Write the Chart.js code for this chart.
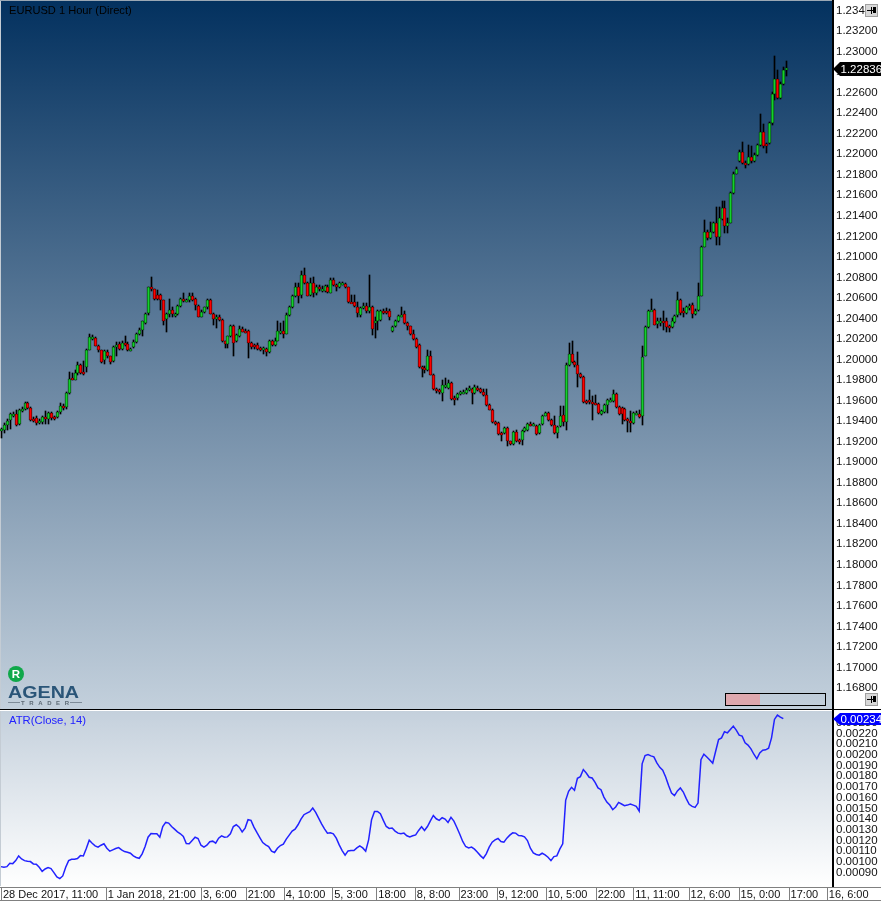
<!DOCTYPE html>
<html>
<head>
<meta charset="utf-8">
<title>EURUSD 1 Hour (Direct)</title>
<script src="https://cdn.jsdelivr.net/npm/chart.js@4/dist/chart.umd.min.js"></script>
<style>
  html, body { margin: 0; padding: 0; background: #fff; overflow: hidden; }
  canvas { position: absolute; left: 0; display: block; }
  #priceChart { top: 0; }
  #atrChart { top: 709px; }
</style>
</head>
<body>
<canvas id="priceChart" width="881" height="709"></canvas>
<canvas id="atrChart" width="881" height="192"></canvas>
<script>
// candles
const opens = [
1.19308,1.19318,1.19360,1.19408,1.19454,1.19470,1.19373,1.19506,1.19522,1.19577,
1.19528,1.19421,1.19431,1.19389,1.19392,1.19437,1.19421,1.19476,1.19441,1.19441,
1.19486,1.19551,1.19535,1.19674,1.19820,1.19804,1.19868,1.19946,1.19881,1.19923,
1.20095,1.20199,1.20205,1.20128,1.20089,1.19992,1.20069,1.20030,1.19982,1.20121,
1.20150,1.20102,1.20160,1.20147,1.20089,1.20121,1.20170,1.20247,1.20290,1.20354,
1.20452,1.20704,1.20685,1.20630,1.20630,1.20575,1.20393,1.20442,1.20487,1.20435,
1.20442,1.20526,1.20594,1.20571,1.20575,1.20617,1.20588,1.20526,1.20419,1.20461,
1.20507,1.20581,1.20448,1.20393,1.20419,1.20387,1.20176,1.20150,1.20231,1.20328,
1.20176,1.20231,1.20296,1.20280,1.20277,1.20160,1.20137,1.20144,1.20111,1.20095,
1.20102,1.20073,1.20176,1.20144,1.20183,1.20264,1.20280,1.20251,1.20432,1.20510,
1.20614,1.20704,1.20630,1.20821,1.20743,1.20630,1.20743,1.20646,1.20711,1.20678,
1.20672,1.20711,1.20652,1.20776,1.20724,1.20704,1.20730,1.20737,1.20704,1.20565,
1.20565,1.20516,1.20429,1.20500,1.20526,1.20468,1.20516,1.20354,1.20371,1.20387,
1.20468,1.20468,1.20468,1.20277,1.20322,1.20374,1.20419,1.20442,1.20354,1.20322,
1.20251,1.20199,1.20144,1.19927,1.19917,1.19901,1.20030,1.19852,1.19713,1.19700,
1.19674,1.19739,1.19723,1.19771,1.19625,1.19625,1.19664,1.19674,1.19674,1.19706,
1.19713,1.19674,1.19723,1.19713,1.19687,1.19655,1.19557,1.19512,1.19392,1.19386,
1.19285,1.19285,1.19334,1.19204,1.19178,1.19295,1.19214,1.19220,1.19301,1.19311,
1.19376,1.19363,1.19356,1.19285,1.19376,1.19454,1.19480,1.19415,1.19363,1.19285,
1.19350,1.19460,1.19392,1.19946,1.20053,1.19975,1.19946,1.19859,1.19830,1.19600,
1.19603,1.19583,1.19577,1.19567,1.19473,1.19486,1.19557,1.19593,1.19593,1.19664,
1.19538,1.19528,1.19519,1.19421,1.19405,1.19382,1.19470,1.19470,1.19447,1.20037,
1.20316,1.20474,1.20487,1.20348,1.20361,1.20380,1.20380,1.20322,1.20316,1.20361,
1.20432,1.20575,1.20468,1.20458,1.20500,1.20533,1.20445,1.20484,1.20620,1.21100,
1.21245,1.21181,1.21239,1.21326,1.21190,1.21369,1.21472,1.21300,1.21333,1.21618,
1.21812,1.21936,1.22023,1.21916,1.21903,1.21974,1.21936,1.21991,1.22088,1.22221,
1.22098,1.22110,1.22308,1.22590,1.22736,1.22551,1.22687,1.22826
];
const highs = [
1.19334,1.19382,1.19421,1.19480,1.19486,1.19506,1.19519,1.19538,1.19583,1.19583,
1.19535,1.19441,1.19454,1.19421,1.19447,1.19496,1.19486,1.19486,1.19454,1.19496,
1.19577,1.19570,1.19680,1.19875,1.19868,1.19901,1.19972,1.19953,1.19982,1.20102,
1.20251,1.20241,1.20218,1.20141,1.20095,1.20089,1.20089,1.20037,1.20128,1.20167,
1.20173,1.20176,1.20225,1.20167,1.20115,1.20192,1.20257,1.20306,1.20380,1.20458,
1.20711,1.20808,1.20691,1.20678,1.20640,1.20581,1.20452,1.20588,1.20516,1.20458,
1.20536,1.20601,1.20646,1.20594,1.20652,1.20646,1.20597,1.20533,1.20484,1.20516,
1.20588,1.20594,1.20458,1.20435,1.20432,1.20393,1.20183,1.20231,1.20335,1.20338,
1.20251,1.20328,1.20312,1.20296,1.20290,1.20167,1.20154,1.20160,1.20121,1.20121,
1.20115,1.20192,1.20192,1.20209,1.20377,1.20354,1.20371,1.20452,1.20523,1.20627,
1.20743,1.20743,1.20863,1.20889,1.20756,1.20792,1.20802,1.20724,1.20730,1.20717,
1.20730,1.20724,1.20792,1.20792,1.20737,1.20756,1.20756,1.20750,1.20711,1.20630,
1.20630,1.20565,1.20516,1.20549,1.20555,1.20824,1.20523,1.20419,1.20484,1.20484,
1.20494,1.20500,1.20490,1.20322,1.20387,1.20435,1.20516,1.20468,1.20361,1.20328,
1.20283,1.20209,1.20154,1.19933,1.19933,1.20095,1.20079,1.19859,1.19723,1.19713,
1.19804,1.19820,1.19804,1.19778,1.19642,1.19674,1.19693,1.19700,1.19719,1.19739,
1.19723,1.19755,1.19745,1.19726,1.19713,1.19713,1.19564,1.19519,1.19402,1.19392,
1.19298,1.19340,1.19340,1.19211,1.19305,1.19311,1.19227,1.19311,1.19344,1.19382,
1.19389,1.19382,1.19366,1.19376,1.19463,1.19489,1.19486,1.19421,1.19447,1.19350,
1.19551,1.19544,1.19966,1.20160,1.20183,1.19982,1.20069,1.19868,1.19836,1.19609,
1.19700,1.19648,1.19658,1.19574,1.19512,1.19567,1.19616,1.19622,1.19700,1.19671,
1.19544,1.19538,1.19528,1.19431,1.19496,1.19489,1.19496,1.19512,1.20128,1.20322,
1.20484,1.20588,1.20494,1.20403,1.20403,1.20468,1.20403,1.20338,1.20403,1.20435,
1.20662,1.20588,1.20500,1.20523,1.20539,1.20549,1.20490,1.20743,1.21106,1.21359,
1.21262,1.21343,1.21343,1.21482,1.21488,1.21543,1.21543,1.21375,1.21634,1.21829,
1.21877,1.22039,1.22114,1.21932,1.22088,1.22078,1.22007,1.22104,1.22389,1.22298,
1.22110,1.22315,1.22606,1.22953,1.22817,1.22703,1.22849,1.22904
];
const lows = [
1.19237,1.19285,1.19318,1.19324,1.19441,1.19356,1.19366,1.19486,1.19512,1.19519,
1.19405,1.19389,1.19360,1.19376,1.19376,1.19376,1.19376,1.19408,1.19415,1.19431,
1.19473,1.19512,1.19519,1.19668,1.19797,1.19797,1.19852,1.19862,1.19852,1.19875,
1.20089,1.20192,1.20128,1.20076,1.19966,1.19959,1.20017,1.19959,1.19972,1.20030,
1.20089,1.20089,1.20134,1.20082,1.20079,1.20111,1.20160,1.20238,1.20231,1.20348,
1.20435,1.20672,1.20581,1.20575,1.20484,1.20338,1.20264,1.20419,1.20413,1.20413,
1.20432,1.20516,1.20565,1.20562,1.20565,1.20568,1.20484,1.20413,1.20413,1.20452,
1.20497,1.20442,1.20338,1.20306,1.20380,1.20166,1.20108,1.20111,1.20218,1.20030,
1.20166,1.20218,1.20264,1.20257,1.20014,1.20102,1.20102,1.20095,1.20082,1.20050,
1.20037,1.20063,1.20134,1.20134,1.20176,1.20251,1.20205,1.20244,1.20426,1.20500,
1.20607,1.20555,1.20597,1.20737,1.20614,1.20614,1.20607,1.20633,1.20672,1.20662,
1.20662,1.20652,1.20646,1.20717,1.20672,1.20698,1.20724,1.20695,1.20549,1.20549,
1.20516,1.20413,1.20419,1.20490,1.20458,1.20458,1.20241,1.20209,1.20290,1.20380,
1.20445,1.20445,1.20387,1.20270,1.20316,1.20367,1.20413,1.20348,1.20290,1.20241,
1.20192,1.20115,1.19917,1.19830,1.19868,1.19891,1.19846,1.19706,1.19674,1.19668,
1.19593,1.19723,1.19713,1.19609,1.19554,1.19609,1.19655,1.19664,1.19664,1.19693,
1.19570,1.19664,1.19693,1.19674,1.19642,1.19551,1.19506,1.19382,1.19366,1.19266,
1.19204,1.19272,1.19162,1.19169,1.19169,1.19194,1.19182,1.19172,1.19292,1.19301,
1.19356,1.19356,1.19269,1.19275,1.19366,1.19447,1.19405,1.19356,1.19275,1.19237,
1.19340,1.19350,1.19318,1.19940,1.19966,1.19927,1.19732,1.19820,1.19577,1.19570,
1.19570,1.19408,1.19557,1.19470,1.19463,1.19476,1.19480,1.19583,1.19583,1.19528,
1.19463,1.19376,1.19405,1.19292,1.19292,1.19373,1.19460,1.19434,1.19360,1.20030,
1.20309,1.20468,1.20332,1.20306,1.20322,1.20290,1.20273,1.20273,1.20306,1.20354,
1.20419,1.20435,1.20413,1.20445,1.20484,1.20403,1.20435,1.20477,1.20614,1.21093,
1.21164,1.21171,1.21229,1.21116,1.21116,1.21359,1.21229,1.21229,1.21326,1.21608,
1.21806,1.21926,1.21903,1.21867,1.21893,1.21910,1.21926,1.21981,1.22078,1.22065,
1.22007,1.22104,1.22282,1.22525,1.22541,1.22541,1.22671,1.22758
];
const closes = [
1.19324,1.19366,1.19405,1.19470,1.19470,1.19360,1.19506,1.19522,1.19577,1.19528,
1.19415,1.19405,1.19382,1.19399,1.19437,1.19421,1.19476,1.19431,1.19431,1.19486,
1.19551,1.19535,1.19674,1.19810,1.19804,1.19868,1.19946,1.19868,1.19868,1.20095,
1.20215,1.20215,1.20134,1.20089,1.19975,1.20079,1.20030,1.19975,1.20121,1.20141,
1.20102,1.20160,1.20147,1.20095,1.20102,1.20170,1.20247,1.20290,1.20371,1.20442,
1.20704,1.20685,1.20588,1.20588,1.20575,1.20380,1.20442,1.20487,1.20442,1.20442,
1.20526,1.20588,1.20578,1.20581,1.20617,1.20581,1.20533,1.20419,1.20461,1.20507,
1.20575,1.20448,1.20393,1.20419,1.20387,1.20176,1.20150,1.20225,1.20328,1.20160,
1.20238,1.20296,1.20273,1.20273,1.20160,1.20121,1.20118,1.20105,1.20095,1.20108,
1.20073,1.20183,1.20144,1.20176,1.20277,1.20280,1.20251,1.20435,1.20510,1.20614,
1.20704,1.20620,1.20821,1.20743,1.20623,1.20743,1.20646,1.20711,1.20685,1.20691,
1.20717,1.20662,1.20776,1.20724,1.20704,1.20743,1.20743,1.20711,1.20559,1.20559,
1.20526,1.20452,1.20500,1.20526,1.20468,1.20516,1.20296,1.20371,1.20468,1.20474,
1.20458,1.20458,1.20413,1.20316,1.20374,1.20426,1.20435,1.20354,1.20322,1.20251,
1.20199,1.20121,1.19927,1.19911,1.19901,1.20030,1.19852,1.19713,1.19690,1.19680,
1.19755,1.19755,1.19771,1.19616,1.19616,1.19664,1.19680,1.19687,1.19706,1.19719,
1.19674,1.19732,1.19706,1.19687,1.19655,1.19557,1.19512,1.19392,1.19382,1.19275,
1.19275,1.19334,1.19204,1.19178,1.19295,1.19204,1.19204,1.19301,1.19334,1.19376,
1.19366,1.19373,1.19279,1.19366,1.19454,1.19480,1.19415,1.19363,1.19285,1.19344,
1.19454,1.19392,1.19946,1.20053,1.19972,1.19946,1.19859,1.19830,1.19587,1.19587,
1.19583,1.19570,1.19567,1.19480,1.19496,1.19557,1.19603,1.19609,1.19664,1.19538,
1.19473,1.19473,1.19415,1.19405,1.19382,1.19480,1.19483,1.19441,1.20024,1.20316,
1.20474,1.20487,1.20338,1.20371,1.20377,1.20354,1.20316,1.20306,1.20380,1.20426,
1.20575,1.20452,1.20452,1.20510,1.20523,1.20445,1.20477,1.20620,1.21100,1.21245,
1.21181,1.21245,1.21326,1.21190,1.21375,1.21472,1.21300,1.21333,1.21618,1.21812,
1.21858,1.22023,1.21910,1.21900,1.21974,1.21936,1.21991,1.22091,1.22221,1.22078,
1.22078,1.22305,1.22590,1.22736,1.22551,1.22687,1.22823,1.22836
];
const atrValues = [
0.000956,0.000950,0.000956,0.000988,0.000984,0.001012,0.001056,0.001028,0.001012,0.001006,
0.001003,0.000981,0.000978,0.000950,0.000912,0.000934,0.000947,0.000938,0.000900,0.000859,
0.000844,0.000869,0.000950,0.001012,0.001025,0.001025,0.001031,0.001059,0.001056,0.001125,
0.001203,0.001175,0.001150,0.001138,0.001156,0.001169,0.001128,0.001100,0.001113,0.001125,
0.001134,0.001113,0.001097,0.001091,0.001081,0.001056,0.001041,0.001034,0.001075,0.001144,
0.001231,0.001266,0.001263,0.001263,0.001231,0.001331,0.001369,0.001363,0.001331,0.001306,
0.001281,0.001263,0.001238,0.001172,0.001169,0.001200,0.001231,0.001219,0.001156,0.001138,
0.001156,0.001188,0.001194,0.001175,0.001222,0.001244,0.001231,0.001234,0.001263,0.001331,
0.001347,0.001325,0.001281,0.001316,0.001394,0.001388,0.001325,0.001275,0.001228,0.001181,
0.001159,0.001144,0.001100,0.001088,0.001128,0.001153,0.001166,0.001213,0.001250,0.001288,
0.001306,0.001347,0.001400,0.001441,0.001456,0.001469,0.001503,0.001463,0.001409,0.001356,
0.001309,0.001269,0.001272,0.001263,0.001222,0.001159,0.001106,0.001063,0.001103,0.001106,
0.001106,0.001131,0.001150,0.001131,0.001100,0.001206,0.001394,0.001472,0.001472,0.001450,
0.001388,0.001331,0.001313,0.001316,0.001288,0.001269,0.001263,0.001269,0.001244,0.001234,
0.001244,0.001253,0.001294,0.001328,0.001294,0.001331,0.001384,0.001434,0.001403,0.001388,
0.001413,0.001400,0.001369,0.001416,0.001381,0.001322,0.001259,0.001191,0.001144,0.001131,
0.001138,0.001119,0.001091,0.001059,0.001034,0.001075,0.001138,0.001184,0.001206,0.001219,
0.001191,0.001184,0.001222,0.001250,0.001272,0.001269,0.001247,0.001244,0.001234,0.001200,
0.001128,0.001084,0.001069,0.001063,0.001081,0.001066,0.001044,0.001012,0.001050,0.001056,
0.001119,0.001169,0.001575,0.001659,0.001697,0.001669,0.001781,0.001797,0.001863,0.001831,
0.001791,0.001784,0.001744,0.001691,0.001675,0.001606,0.001559,0.001531,0.001488,0.001513,
0.001556,0.001541,0.001525,0.001531,0.001541,0.001531,0.001519,0.001475,0.001916,0.001994,
0.002003,0.001991,0.001981,0.001925,0.001884,0.001856,0.001794,0.001713,0.001644,0.001619,
0.001663,0.001691,0.001653,0.001591,0.001538,0.001519,0.001509,0.001550,0.001956,0.002006,
0.001981,0.001953,0.001922,0.002034,0.002144,0.002159,0.002216,0.002206,0.002238,0.002269,
0.002231,0.002184,0.002175,0.002113,0.002091,0.002056,0.002006,0.001963,0.002019,0.002044,
0.002047,0.002063,0.002159,0.002331,0.002372,0.002353,0.002338
];

const priceTicks = [1.234,1.232,1.23,1.228,1.226,1.224,1.222,1.22,1.218,1.216,1.214,1.212,1.21,1.208,1.206,1.204,1.202,1.2,1.198,1.196,1.194,1.192,1.19,1.188,1.186,1.184,1.182,1.18,1.178,1.176,1.174,1.172,1.17,1.168];
const atrTicks = [0.0023,0.0022,0.0021,0.002,0.0019,0.0018,0.0017,0.0016,0.0015,0.0014,0.0013,0.0012,0.0011,0.001,0.0009];
const timeTickBars = [0,35.6,68,83.2,96.1,112.6,127.6,140.7,155.6,168.5,185.2,202.2,215,233.8,250.8,267.8,280.8];
const timeLabels = ['28 Dec 2017, 11:00','1 Jan 2018, 21:00','3, 6:00','21:00','4, 10:00','5, 3:00','18:00','8, 8:00','23:00','9, 12:00','10, 5:00','22:00','11, 11:00','12, 6:00','15, 0:00','17:00','16, 6:00'];
const lastPrice = 1.22836;
const lastAtr = 0.00234;

const fontFamily = '"Liberation Sans", Arial, sans-serif';
const upColor = '#14d02e';
const downColor = '#ff0000';
const xMin = -0.34, xMax = 282.9;

// the bars land on whole pixels like the original platform does
function snapCandles(chart) {
  chart.data.datasets.forEach((ds, n) => {
    chart.getDatasetMeta(n).data.forEach(el => {
      el.x = Math.round(el.x) + 0.5;
      let top = Math.round(Math.min(el.y, el.base));
      let bottom = Math.round(Math.max(el.y, el.base));
      if (bottom - top < 2) bottom = top + 2;
      el.y = top;
      el.base = bottom;
    });
  });
}

function fillPanel(chart, stops) {
  const { ctx, chartArea: a } = chart;
  const g = ctx.createLinearGradient(0, a.top, 0, a.bottom);
  stops.forEach(s => g.addColorStop(s[0], s[1]));
  ctx.save();
  ctx.fillStyle = g;
  ctx.fillRect(0, a.top, a.right, a.bottom - a.top);
  ctx.fillStyle = '#c4ccd4';
  ctx.fillRect(0, a.top, 1, a.bottom - a.top);
  ctx.restore();
}

function valueFlag(chart, value, text, color, up, down) {
  const { ctx } = chart;
  const y = Math.round(chart.scales.y.getPixelForValue(value)) + 1;
  ctx.save();
  ctx.fillStyle = color;
  ctx.beginPath();
  ctx.moveTo(833, y);
  ctx.lineTo(840, y - up);
  ctx.lineTo(881, y - up);
  ctx.lineTo(881, y + down);
  ctx.lineTo(840, y + down);
  ctx.closePath();
  ctx.fill();
  ctx.fillStyle = '#fff';
  ctx.font = '11.5px ' + fontFamily;
  ctx.textBaseline = 'middle';
  ctx.fillText(text, 840.5, y + 1);
  ctx.restore();
}

function pinButton(ctx, x, y) {
  ctx.save();
  ctx.fillStyle = '#d8d8d8';
  ctx.fillRect(x, y, 13, 13);
  ctx.strokeStyle = '#a0a0a0';
  ctx.strokeRect(x + 0.5, y + 0.5, 12, 12);
  ctx.fillStyle = '#000';
  ctx.fillRect(x + 2, y + 6, 6, 1);
  ctx.fillRect(x + 8, y + 3, 3, 6);
  ctx.fillRect(x + 6, y + 3, 1, 7);
  ctx.restore();
}

const priceDecor = {
  id: 'priceDecor',
  afterDatasetsUpdate: snapCandles,
  beforeDraw(chart) {
    fillPanel(chart, [[0, '#03315f'], [1, '#c3d0dc']]);
    chart.ctx.fillStyle = '#9aa7b4';
    chart.ctx.fillRect(0, 0, 832, 1);
  },
  afterDraw(chart) {
    const { ctx } = chart;
    valueFlag(chart, lastPrice, lastPrice.toFixed(5), '#000', 7, 7);
    pinButton(ctx, 865, 4);
    pinButton(ctx, 865, 693);

    ctx.save();
    ctx.textBaseline = 'alphabetic';
    ctx.fillStyle = '#000';
    ctx.font = '11.1px ' + fontFamily;
    ctx.fillText('EURUSD 1 Hour (Direct)', 9, 14);

    // scroll position box
    ctx.fillStyle = '#dfa8ae';
    ctx.fillRect(726, 694, 34, 11);
    ctx.strokeStyle = '#000';
    ctx.strokeRect(725.5, 693.5, 100, 12);

    // logo
    ctx.fillStyle = '#10a84a';
    ctx.beginPath();
    ctx.arc(16, 674, 8, 0, Math.PI * 2);
    ctx.fill();
    ctx.fillStyle = '#fff';
    ctx.font = 'bold 11.5px ' + fontFamily;
    ctx.textAlign = 'center';
    ctx.fillText('R', 16, 678);
    ctx.textAlign = 'left';
    ctx.fillStyle = '#2a5578';
    ctx.font = 'bold 16px ' + fontFamily;
    ctx.save();
    ctx.scale(1.23, 1);
    ctx.fillText('AGENA', 8 / 1.23, 698);
    ctx.restore();
    ctx.fillStyle = '#5d6a75';
    ctx.font = 'bold 6px ' + fontFamily;
    ctx.letterSpacing = '4.6px';
    ctx.fillText('TRADER', 21, 705);
    ctx.letterSpacing = '0px';
    ctx.fillStyle = '#7d8b98';
    ctx.fillRect(8, 702, 12, 1);
    ctx.fillRect(70, 702, 12, 1);
    ctx.restore();
  }
};

const atrDecor = {
  id: 'atrDecor',
  beforeDraw(chart) {
    fillPanel(chart, [[0, '#c4d0dc'], [1, '#ffffff']]);
  },
  afterDraw(chart) {
    const { ctx, scales } = chart;
    ctx.save();
    ctx.fillStyle = '#000';
    ctx.fillRect(0, 0, 881, 1);
    // cell walls of the time axis
    ctx.fillStyle = '#808080';
    scales.x.ticks.forEach((t, i) => {
      ctx.fillRect(Math.round(scales.x.getPixelForTick(i)), 178, 1, 14);
    });
    ctx.fillRect(0, 191, 881, 1);
    ctx.fillRect(0, 178, 881, 1);
    ctx.fillStyle = '#2222ff';
    ctx.font = '11.3px ' + fontFamily;
    ctx.textBaseline = 'alphabetic';
    ctx.fillText('ATR(Close, 14)', 9, 15);
    ctx.restore();
    valueFlag(chart, lastAtr, lastAtr.toFixed(5), '#0000ff', 6, 6);
  }
};

function noPadding(scale) {
  scale.paddingTop = 0;
  scale.paddingBottom = 0;
  scale.paddingLeft = 0;
  scale.paddingRight = 0;
}

function rightAxis(min, max, tickList) {
  return {
    position: 'right',
    min: min,
    max: max,
    grid: { display: false, drawTicks: false },
    border: { display: true, color: '#000', width: 2 },
    afterBuildTicks: s => { s.ticks = tickList.map(v => ({ value: v })); },
    afterFit: s => { s.width = 48; noPadding(s); },
    ticks: {
      autoSkip: false,
      padding: 3,
      color: '#111',
      font: { family: fontFamily, size: 11.5 },
      callback: v => v.toFixed(5)
    }
  };
}

new Chart(document.getElementById('priceChart'), {
  type: 'bar',
  data: {
    datasets: [
      {
        data: closes.map((c, i) => ({ x: i, y: [opens[i], c] })),
        backgroundColor: closes.map((c, i) => c >= opens[i] ? upColor : downColor),
        borderColor: '#000',
        borderWidth: 0.7,
        borderSkipped: false,
        barThickness: 3,
        grouped: false,
        order: 1
      },
      {
        data: highs.map((h, i) => ({ x: i, y: [lows[i], h] })),
        backgroundColor: '#000',
        borderWidth: 0,
        barThickness: 1,
        grouped: false,
        order: 2
      }
    ]
  },
  options: {
    responsive: false,
    animation: false,
    events: [],
    layout: { padding: 0 },
    plugins: { legend: { display: false }, tooltip: { enabled: false } },
    scales: {
      x: { type: 'linear', display: false, offset: false, min: xMin, max: xMax },
      y: rightAxis(1.16596, 1.23502, priceTicks)
    }
  },
  plugins: [priceDecor]
});

new Chart(document.getElementById('atrChart'), {
  type: 'line',
  data: {
    datasets: [{
      data: atrValues.map((v, i) => ({ x: i, y: v })),
      borderColor: '#2222ff',
      borderWidth: 1.5,
      pointRadius: 0,
      tension: 0,
      fill: false
    }]
  },
  options: {
    responsive: false,
    animation: false,
    events: [],
    layout: { padding: { top: 2 } },
    plugins: { legend: { display: false }, tooltip: { enabled: false } },
    scales: {
      x: {
        type: 'linear',
        min: xMin,
        max: xMax,
        grid: { display: false, drawTicks: false },
        border: { display: false },
        afterBuildTicks: s => { s.ticks = timeTickBars.map(v => ({ value: v })); },
        afterFit: s => { s.height = 15; noPadding(s); },
        ticks: {
          autoSkip: false,
          maxRotation: 0,
          minRotation: 0,
          align: 'start',
          padding: 2,
          labelOffset: 2,
          color: '#111',
          font: { family: fontFamily, size: 11 },
          callback: (v, i) => timeLabels[i]
        }
      },
      y: rightAxis(0.000775, 0.00241, atrTicks)
    }
  },
  plugins: [atrDecor]
});
</script>
</body>
</html>
